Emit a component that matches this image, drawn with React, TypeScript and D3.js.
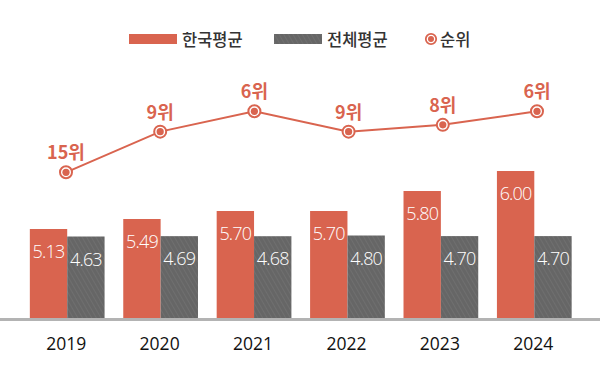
import React from "react";
import * as d3 from "d3";

const years = ["2019", "2020", "2021", "2022", "2023", "2024"];
const koreaAvg = [5.13, 5.49, 5.7, 5.7, 5.8, 6.0];
const totalAvg = [4.63, 4.69, 4.68, 4.8, 4.7, 4.7];
const ranks = [15, 9, 6, 9, 8, 6];
const seriesNames = ["한국평균", "전체평균", "순위"];

const W = 600;
const H = 380;
const RED = "#D9644F";
const GRAY = "#666666";
const KFONT = "'Noto Sans CJK KR', 'Noto Sans', sans-serif";
const NFONT = "'Open Sans', 'Noto Sans', sans-serif";

export default function App() {
  const x = d3.scaleBand<string>().domain(years).range([20.5, 581]).paddingInner(0.2).paddingOuter(0.1);
  const xs = d3.scaleBand<string>().domain(["kr", "all"]).range([0, x.bandwidth()]);
  // value axis of the original chart is not linear; reproduce it piecewise
  const y = d3
    .scaleLinear()
    .domain([0, 4.63, 4.8, 5.13, 5.49, 5.7, 5.8, 6.0])
    .range([318, 236.5, 235.5, 229, 219, 211, 191, 171]);
  const xp = d3.scalePoint<string>().domain(years).range([66, 537]);
  const yr = d3.scaleLinear().domain([6, 15]).range([111.3, 172.3]);
  const line = d3
    .line<number>()
    .x((_, i) => xp(years[i]) as number)
    .y((d) => yr(d));

  return (
    <div style={{ position: "fixed", left: 0, top: 0, width: W, height: H, background: "#fff" }}>
      <svg width={W} height={H} style={{ display: "block" }}>
        <defs>
          <pattern id="hatch" patternUnits="userSpaceOnUse" width="4" height="4" patternTransform="rotate(-30)">
            <rect width="4" height="4" fill={GRAY} />
            <line x1="0" y1="0" x2="0" y2="4" stroke="#747474" strokeWidth="1.3" />
          </pattern>
        </defs>

        {/* legend */}
        <g>
          <rect x={129} y={34} width={48} height={10} fill={RED} />
          <text x={182} y={46} fontFamily={KFONT} fontSize={16.5} fontWeight={500} fill="#333">{seriesNames[0]}</text>
          <rect x={274} y={34} width={48} height={10} fill="url(#hatch)" />
          <text x={327} y={46} fontFamily={KFONT} fontSize={16.5} fontWeight={500} fill="#333">{seriesNames[1]}</text>
          <circle cx={431} cy={39} r={5.2} fill="#fff" stroke={RED} strokeWidth={1.8} />
          <circle cx={431} cy={39} r={3} fill={RED} />
          <text x={440} y={46} fontFamily={KFONT} fontSize={16.5} fontWeight={500} fill="#333">{seriesNames[2]}</text>
        </g>

        {/* bars */}
        {years.map((yv, i) => {
          const x0 = x(yv) as number;
          const bw = xs.bandwidth();
          const kx = x0 + (xs("kr") as number);
          const ax = x0 + (xs("all") as number);
          return (
            <g key={yv}>
              <rect x={kx} y={y(koreaAvg[i])} width={bw} height={y(0) - y(koreaAvg[i])} fill={RED} />
              <rect x={ax} y={y(totalAvg[i])} width={bw} height={y(0) - y(totalAvg[i])} fill="url(#hatch)" />
              <text x={kx + bw / 2} y={y(koreaAvg[i]) + 29} textAnchor="middle" fontFamily={NFONT} fontSize={18} fontWeight={300} letterSpacing={-0.8} fill="#fff">
                {koreaAvg[i].toFixed(2)}
              </text>
              <text x={ax + bw / 2} y={y(totalAvg[i]) + 29} textAnchor="middle" fontFamily={NFONT} fontSize={18} fontWeight={300} letterSpacing={-0.8} fill="#fff">
                {totalAvg[i].toFixed(2)}
              </text>
              <text x={x0 + x.bandwidth() / 2 - 1} y={349.5} textAnchor="middle" fontFamily={NFONT} fontSize={17.5} fill="#111">
                {yv}
              </text>
            </g>
          );
        })}

        {/* axis line */}
        <rect x={0} y={318} width={W} height={3} fill="#b3b3b3" />

        {/* rank line */}
        <path d={line(ranks) || ""} fill="none" stroke={RED} strokeWidth={2} />
        {ranks.map((r, i) => (
          <g key={i}>
            <circle cx={xp(years[i])} cy={yr(r)} r={6} fill="#fff" stroke={RED} strokeWidth={2} />
            <circle cx={xp(years[i])} cy={yr(r)} r={3.6} fill={RED} />
            <text x={xp(years[i])} y={yr(r) - 13} textAnchor="middle" fontFamily={KFONT} fontWeight={700} fontSize={18} fill={RED}>
              {r}위
            </text>
          </g>
        ))}
      </svg>
    </div>
  );
}
